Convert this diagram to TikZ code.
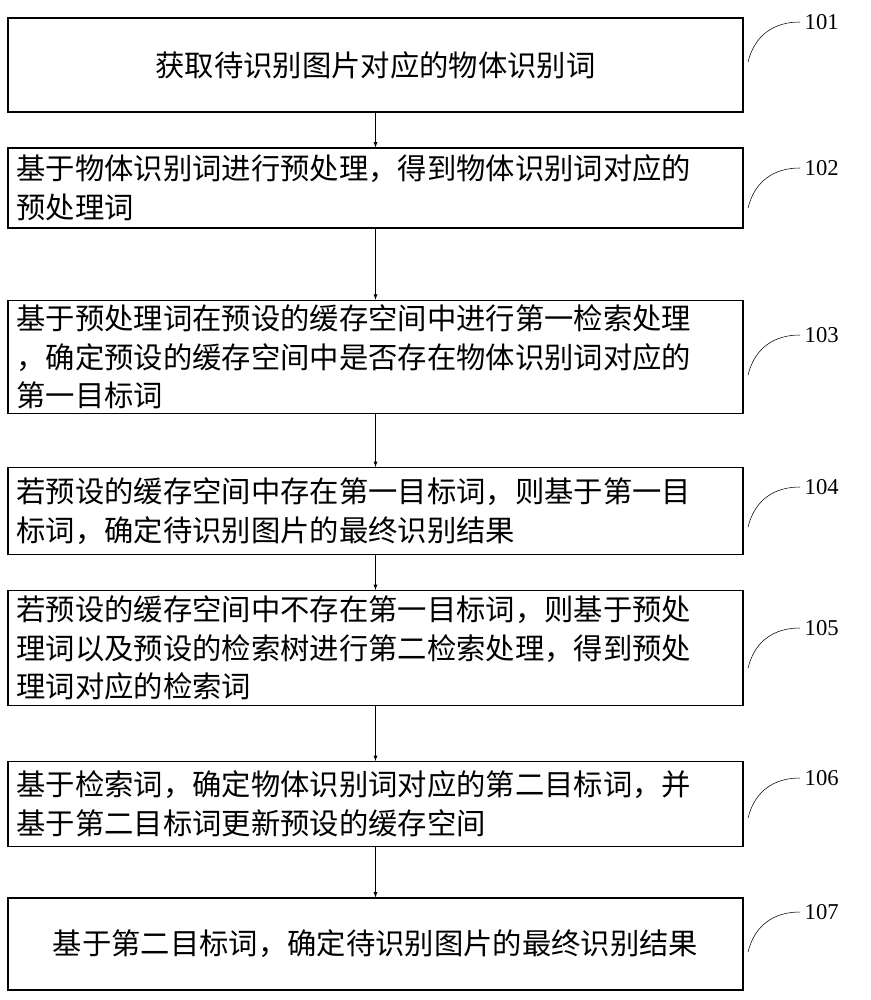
\documentclass[tikz,border=0pt]{standalone}
\usepackage{fontspec}
\setmainfont{Liberation Serif}
\newfontfamily\cjk{Noto Sans CJK SC}
\usetikzlibrary{positioning}
\tikzset{
  stepbox/.style={draw, thick, minimum width=735*0.75pt, inner xsep=0pt, font=\cjk\fontsize{22}{29}\selectfont},
  multibox/.style={stepbox, text width=718*0.75pt, align=left},
  steplabel/.style={font=\fontsize{17}{20}\selectfont, anchor=west},
  flow/.style={-latex, thin},
  tag/.style={thin}
}
\begin{document}
\begin{tikzpicture}[x=0.75pt,y=-0.75pt]
\useasboundingbox (0,0) rectangle (871,1000);
% boxes
\node[stepbox, minimum height=94*0.75pt] (s1) at (375.5,65) {获取待识别图片对应的物体识别词};
\node[multibox, minimum height=80*0.75pt] (s2) at (375.5,188) {基于物体识别词进行预处理，得到物体识别词对应的\\预处理词};
\node[multibox, minimum height=113*0.75pt] (s3) at (375.5,357) {基于预处理词在预设的缓存空间中进行第一检索处理\\，确定预设的缓存空间中是否存在物体识别词对应的\\第一目标词};
\node[multibox, minimum height=87*0.75pt] (s4) at (375.5,511) {若预设的缓存空间中存在第一目标词，则基于第一目\\标词，确定待识别图片的最终识别结果};
\node[multibox, minimum height=115*0.75pt] (s5) at (375.5,648) {若预设的缓存空间中不存在第一目标词，则基于预处\\理词以及预设的检索树进行第二检索处理，得到预处\\理词对应的检索词};
\node[multibox, minimum height=85*0.75pt] (s6) at (375.5,804) {基于检索词，确定物体识别词对应的第二目标词，并\\基于第二目标词更新预设的缓存空间};
\node[stepbox, minimum height=92*0.75pt] (s7) at (375.5,944) {基于第二目标词，确定待识别图片的最终识别结果};
% arrows
\foreach \a/\b in {s1/s2, s2/s3, s3/s4, s4/s5, s5/s6, s6/s7}
  \draw[flow] (\a) -- (\b);
% step numbers
\foreach \n/\y in {1/22, 2/168, 3/335, 4/487, 5/628, 6/778, 7/912} {
  \node[steplabel] (l\n) at (800,\y) {10\n};
  \draw[tag] (748,\y+40) .. controls (755,\y+12) and (775,\y) .. (l\n.west);
}
\end{tikzpicture}
\end{document}
